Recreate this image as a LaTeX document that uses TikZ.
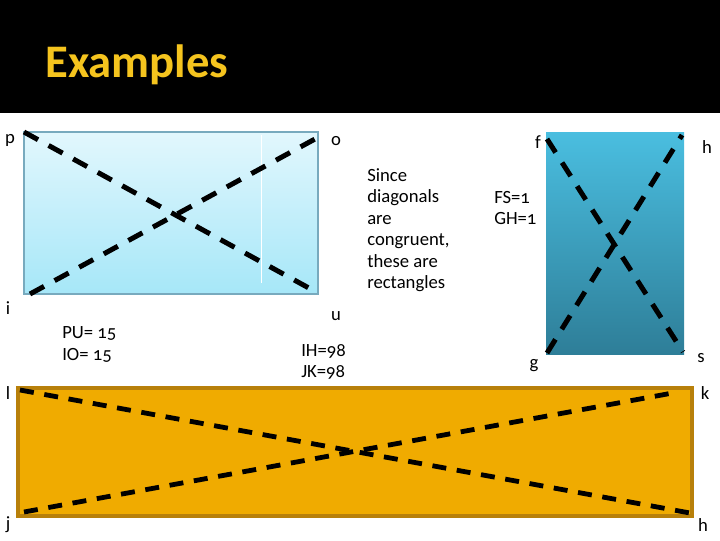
\documentclass[tikz,border=0pt]{standalone}
\usepackage{fontspec}
\setmainfont{Carlito}[Numbers=OldStyle]
\definecolor{titlegold}{RGB}{245,196,30}
\definecolor{lbtop}{RGB}{226,247,253}
\definecolor{lbbot}{RGB}{166,231,248}
\definecolor{lbedge}{RGB}{120,170,190}
\definecolor{dbtop}{RGB}{74,190,224}
\definecolor{dbbot}{RGB}{46,126,152}
\definecolor{orfill}{RGB}{240,171,0}
\definecolor{oredge}{RGB}{184,128,10}
\tikzset{
  diag/.style={line width=3.75pt, dash pattern=on 12pt off 9pt},
  diagsmall/.style={line width=3.6pt, dash pattern=on 10.5pt off 8pt},
  lab/.style={font=\fontsize{14}{16}\selectfont, inner sep=0pt},
  box/.style={rectangle, inner sep=0pt, outer sep=0pt}
}
\begin{document}
\begin{tikzpicture}[x=0.75pt,y=-0.75pt]
\useasboundingbox (0,0) rectangle (720,540);
\fill[white] (0,0) rectangle (720,540);
\fill[black] (0,0) rectangle (720,113);
\node[anchor=base west, inner sep=0pt, text=titlegold, font=\bfseries\fontsize{35}{40}\selectfont] (title) at (45,77) {Examples};

% rectangle 1
\node[box, draw=lbedge, line width=0.8pt, top color=lbtop, bottom color=lbbot, minimum width=220.5pt, minimum height=121.5pt] (r1) at (171,213) {};
\draw[white, line width=0.7pt] (261,135) -- (261,283);
\coordinate (p1) at (24,132);
\coordinate (u1) at (318,293);
\coordinate (i1) at (30,294);
\coordinate (o1) at (315,139);
\draw[diag] (p1) -- (u1);
\draw[diag] (i1) -- (o1);
\node[lab] (lp) at (10,140) {p};
\node[lab] (lo) at (336,141) {o};
\node[lab] (li) at (8,308) {i};
\node[lab] (lu) at (336,316) {u};
\node[lab, anchor=west] (pu) at (62,333) {PU= 15};
\node[lab, anchor=west] (io) at (62,355) {IO= 15};
\node[lab, anchor=west] (ih) at (301,351) {IH=98};
\node[lab, anchor=west] (jk) at (301,372) {JK=98};

% text
\node[anchor=west, inner sep=0pt, align=left, font=\fontsize{14}{16.1}\selectfont] (since) at (367,230) {Since\\diagonals\\are\\congruent,\\these are\\rectangles};

% rectangle 2
\node[box, top color=dbtop, bottom color=dbbot, minimum width=103.5pt, minimum height=166.5pt] (r2) at (615,243) {};
\coordinate (f2) at (547,139);
\coordinate (s2) at (683,352);
\coordinate (g2) at (547,353);
\coordinate (h2) at (682,135);
\draw[diag] (f2) -- (s2);
\draw[diag] (g2) -- (h2);
\node[lab] (lf) at (538,142) {f};
\node[lab] (lh) at (707,147) {h};
\node[lab] (lg) at (534,366) {g};
\node[lab] (ls) at (701,358) {s};
\node[lab, anchor=west] (fs) at (494,197) {FS=1};
\node[lab, anchor=west] (gh) at (494,218) {GH=1};

% rectangle 3
\node[box, draw=oredge, line width=3pt, fill=orfill, minimum width=505.5pt, minimum height=96pt] (r3) at (355,452) {};
\coordinate (l3) at (20,390);
\coordinate (h3) at (690,513);
\coordinate (j3) at (24,512);
\coordinate (k3) at (678,392);
\draw[diagsmall] (l3) -- (h3);
\draw[diagsmall] (j3) -- (k3);
\node[lab] (ll) at (8,393) {l};
\node[lab] (lk) at (705,393) {k};
\node[lab] (lj) at (8,525) {j};
\node[lab] (lh3) at (703,525) {h};
\end{tikzpicture}
\end{document}
